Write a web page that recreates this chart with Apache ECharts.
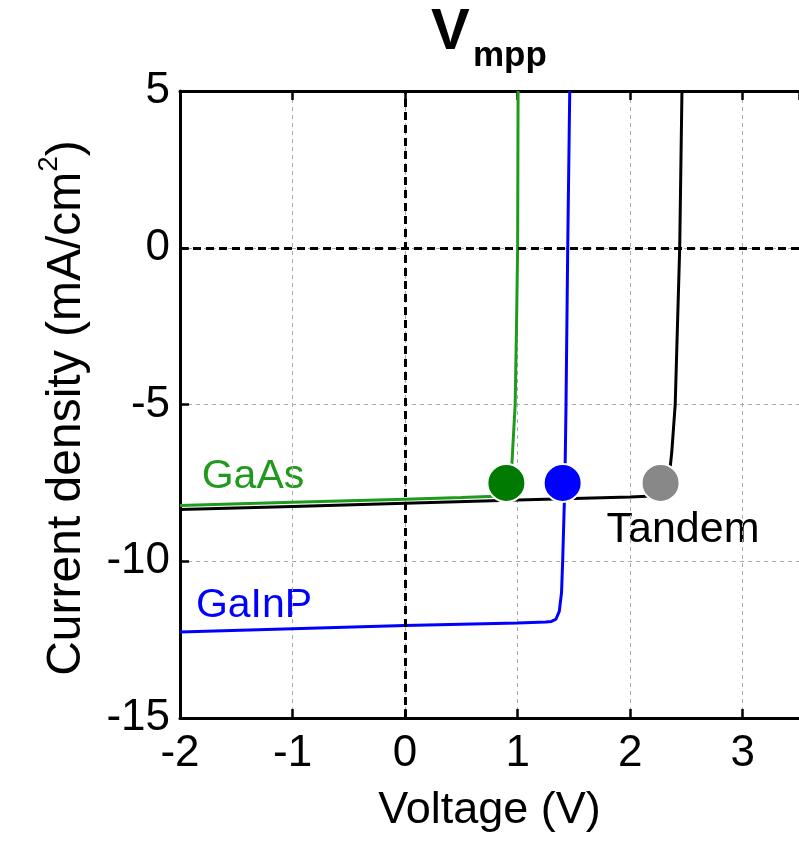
<!DOCTYPE html>
<html>
<head>
<meta charset="utf-8">
<script src="https://cdn.jsdelivr.net/npm/echarts@6/dist/echarts.min.js"></script>
<style>
html,body{margin:0;padding:0;background:#fff;}
#chart{width:799px;height:841px;}
</style>
</head>
<body>
<div id="chart"></div>
<script>
// ---- data ----
var xTicks = [-2, -1, 0, 1, 2, 3];
var yTicks = [-15, -10, -5, 0, 5];

var gaasV = [-2, -1, 0, 0.5, 0.8, 0.88, 0.92, 0.94, 0.955, 0.978, 0.99, 1.0, 1.004];
var gaasJ = [-8.22, -8.12, -8.02, -7.97, -7.93, -7.9, -7.8, -7.5, -6.5, -5, -2.5, 0, 5];

var tandemV = [-2, -1, 0, 1, 2, 2.2, 2.28, 2.32, 2.35, 2.37, 2.40, 2.44, 2.46];
var tandemJ = [-8.35, -8.25, -8.15, -8.05, -7.95, -7.92, -7.88, -7.7, -7.2, -6.5, -5, 0, 5];

var gainpV = [-2, -1, 0, 1, 1.25, 1.3, 1.34, 1.37, 1.39, 1.40, 1.42, 1.43, 1.445, 1.463];
var gainpJ = [-12.26, -12.15, -12.05, -11.97, -11.94, -11.92, -11.85, -11.6, -11.0, -10, -7.5, -5, 0, 5];

var mppNames = ['GaAs', 'GaInP', 'Tandem'];
var mppV = [0.9, 1.4, 2.27];
var mppJ = [-7.5, -7.5, -7.5];

function pairs(xs, ys) { return xs.map(function (x, i) { return [x, ys[i]]; }); }

var FONT = '"Liberation Sans", Arial, sans-serif';
var mppColors = ['#007a00', '#0000ff', '#888888'];

var chart = echarts.init(document.getElementById('chart'), null, {renderer: 'canvas'});
var option = {
  animation: false,
  backgroundColor: '#ffffff',
  grid: {left: 180, top: 91, width: 623.7, height: 627, containLabel: false},
  xAxis: [{
    type: 'value', min: -2, max: 3.5, interval: 1,
    name: 'Voltage (V)', nameLocation: 'middle', nameGap: 70,
    nameTextStyle: {fontFamily: FONT, fontSize: 45, color: '#000'},
    axisLine: {onZero: false, lineStyle: {color: '#000', width: 3}},
    axisTick: {inside: true, length: 9, lineStyle: {color: '#000', width: 2.5}},
    axisLabel: {fontFamily: FONT, fontSize: 44, color: '#000', margin: 14, showMaxLabel: false,
      formatter: function (v) { return xTicks.indexOf(v) >= 0 ? String(v) : ''; }},
    splitLine: {show: true, lineStyle: {color: '#aaaaaa', width: 1, type: [4, 4]}}
  }, {
    type: 'value', position: 'top', min: -2, max: 3.5, interval: 1,
    axisLine: {onZero: false, lineStyle: {color: '#000', width: 3}},
    axisTick: {inside: true, length: 9, lineStyle: {color: '#000', width: 2.5}},
    axisLabel: {show: false},
    splitLine: {show: false}
  }],
  yAxis: [{
    type: 'value', min: -15, max: 5, interval: 5,
    axisLine: {onZero: false, lineStyle: {color: '#000', width: 3}},
    axisTick: {inside: true, length: 9, lineStyle: {color: '#000', width: 2.5}},
    axisLabel: {fontFamily: FONT, fontSize: 44, color: '#000', margin: 10,
      formatter: function (v) { return yTicks.indexOf(v) >= 0 ? String(v) : ''; }},
    splitLine: {show: true, lineStyle: {color: '#aaaaaa', width: 1, type: [4, 4]}}
  }],
  series: [
    {
      type: 'line', name: 'zero', data: [], silent: true,
      markLine: {
        silent: true, symbol: ['none', 'none'], label: {show: false},
        lineStyle: {color: '#000', width: 3, type: [8, 5]},
        data: [{xAxis: 0}, {yAxis: 0}]
      }
    },
    {type: 'line', name: 'Tandem', data: pairs(tandemV, tandemJ), showSymbol: false,
      lineStyle: {color: '#000000', width: 3}, z: 3},
    {type: 'line', name: 'GaAs', data: pairs(gaasV, gaasJ), showSymbol: false,
      lineStyle: {color: '#1f9a1f', width: 3}, z: 4},
    {type: 'line', name: 'GaInP', data: pairs(gainpV, gainpJ), showSymbol: false,
      lineStyle: {color: '#0000ff', width: 3}, z: 4},
    {type: 'scatter', name: 'mpp', symbolSize: 38, z: 6,
      data: mppV.map(function (v, i) {
        return {name: mppNames[i], value: [v, mppJ[i]],
          itemStyle: {color: mppColors[i], opacity: 1, borderColor: '#ffffff', borderWidth: 2}};
      })}
  ],
  graphic: [
    {type: 'text', x: 431, y: 33, style: {text: 'V', font: 'bold 58px ' + FONT, fill: '#000', textAlign: 'left', textVerticalAlign: 'middle'}},
    {type: 'text', x: 473, y: 56, style: {text: 'mpp', font: 'bold 35px ' + FONT, fill: '#000', textAlign: 'left', textVerticalAlign: 'middle'}},
    {type: 'text', x: 253, y: 477, style: {text: 'GaAs', font: '41px ' + FONT, fill: '#1f9a1f', textAlign: 'center', textVerticalAlign: 'middle'}},
    {type: 'text', x: 254, y: 606, style: {text: 'GaInP', font: '41px ' + FONT, fill: '#0000ff', textAlign: 'center', textVerticalAlign: 'middle'}},
    {type: 'text', x: 683, y: 530, style: {text: 'Tandem', font: '43px ' + FONT, fill: '#000', textAlign: 'center', textVerticalAlign: 'middle'}},
    {type: 'text', x: 63, y: 408, rotation: Math.PI / 2,
      style: {text: '{a|Current density (mA/cm}{s|2}{a|)}', fill: '#000', textAlign: 'center', textVerticalAlign: 'middle',
        rich: {a: {fontFamily: FONT, fontSize: 48, lineHeight: 56, verticalAlign: 'bottom'},
               s: {fontFamily: FONT, fontSize: 28, lineHeight: 56, verticalAlign: 'top'}}}}
  ]
};
chart.setOption(option);
</script>
</body>
</html>
